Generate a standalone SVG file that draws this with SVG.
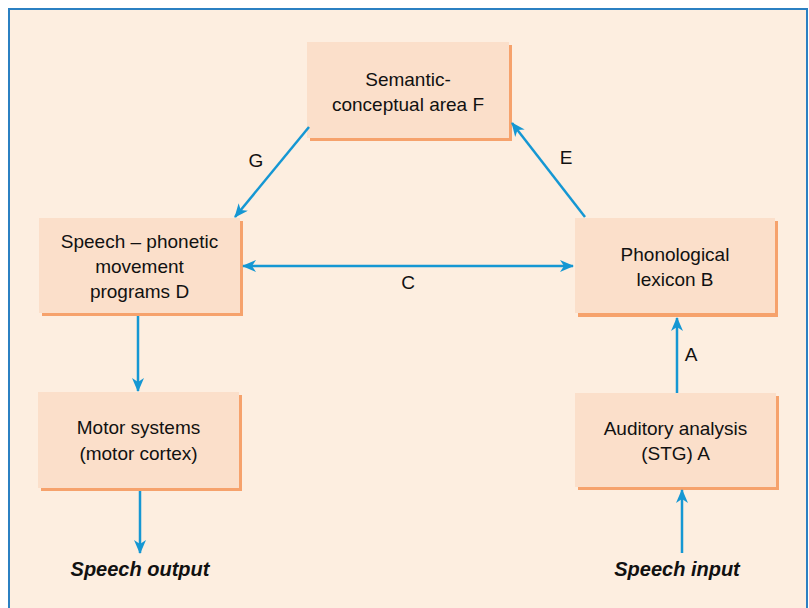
<svg xmlns="http://www.w3.org/2000/svg" width="809" height="608" viewBox="0 0 809 608">
  <style>
    .frame { fill: #fdeee0; stroke: #2b80c2; stroke-width: 2; }
    .shadow { fill: #f6a26c; }
    .box { fill: #fbdfca; }
    .label { font-family: "Liberation Sans", Arial, sans-serif; font-size: 19px; fill: #111; text-anchor: middle; }
    .io { font-family: "Liberation Sans", Arial, sans-serif; font-size: 20px; font-weight: bold; font-style: italic; fill: #111; text-anchor: middle; }
    .edge { stroke: #1597d3; stroke-width: 2.5; fill: none; }
  </style>
  <defs>
    <marker id="head" viewBox="0 0 14 12" refX="13" refY="6" markerWidth="14" markerHeight="12" markerUnits="userSpaceOnUse" orient="auto-start-reverse">
      <path d="M0,0 L14,6 L0,12 L4,6 Z" fill="#1597d3"/>
    </marker>
  </defs>

  <!-- background frame -->
  <rect class="frame" x="9" y="9" width="798" height="610"/>

  <!-- nodes -->
  <g id="node-F">
    <rect class="shadow" x="310" y="45" width="202" height="96"/>
    <rect class="box" x="307" y="42" width="202" height="96"/>
    <text class="label" x="408" y="86">Semantic-</text>
    <text class="label" x="408" y="111">conceptual area F</text>
  </g>
  <g id="node-D">
    <rect class="shadow" x="42" y="221" width="201" height="95"/>
    <rect class="box" x="39" y="218" width="201" height="95"/>
    <text class="label" x="139.5" y="248">Speech – phonetic</text>
    <text class="label" x="139.5" y="273">movement</text>
    <text class="label" x="139.5" y="298">programs D</text>
  </g>
  <g id="node-B">
    <rect class="shadow" x="578" y="221" width="200" height="96"/>
    <rect class="box" x="575" y="218" width="200" height="95"/>
    <text class="label" x="675" y="261">Phonological</text>
    <text class="label" x="675" y="286">lexicon B</text>
  </g>
  <g id="node-motor">
    <rect class="shadow" x="41" y="395" width="201" height="96"/>
    <rect class="box" x="38" y="392" width="201" height="96"/>
    <text class="label" x="138.5" y="434">Motor systems</text>
    <text class="label" x="138.5" y="460">(motor cortex)</text>
  </g>
  <g id="node-A">
    <rect class="shadow" x="578" y="396" width="201" height="94"/>
    <rect class="box" x="575" y="393" width="201" height="94"/>
    <text class="label" x="675.5" y="435">Auditory analysis</text>
    <text class="label" x="675.5" y="460">(STG) A</text>
  </g>
  <g id="node-output">
    <text class="io" x="140" y="576">Speech output</text>
  </g>
  <g id="node-input">
    <text class="io" x="677" y="576">Speech input</text>
  </g>

  <!-- connectors -->
  <g id="connectors">
    <line class="edge" x1="309" y1="127" x2="235" y2="217" marker-end="url(#head)"/>
    <text class="label" x="256" y="167">G</text>
    <line class="edge" x1="585" y1="217" x2="512" y2="123" marker-end="url(#head)"/>
    <text class="label" x="566" y="164">E</text>
    <line class="edge" x1="243" y1="266" x2="573" y2="266" marker-start="url(#head)" marker-end="url(#head)"/>
    <text class="label" x="408" y="289">C</text>
    <line class="edge" x1="138" y1="316" x2="138" y2="391" marker-end="url(#head)"/>
    <line class="edge" x1="140" y1="491" x2="140" y2="553" marker-end="url(#head)"/>
    <line class="edge" x1="677" y1="393" x2="677" y2="318" marker-end="url(#head)"/>
    <text class="label" x="691" y="361">A</text>
    <line class="edge" x1="682" y1="553" x2="682" y2="490" marker-end="url(#head)"/>
  </g>
</svg>
